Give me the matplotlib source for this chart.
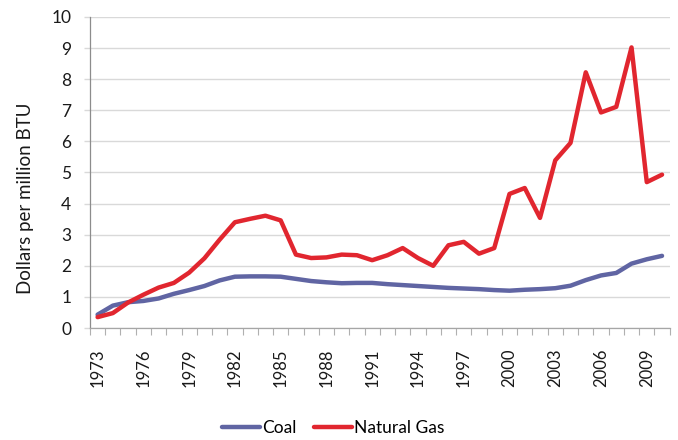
import matplotlib
matplotlib.use('Agg')
import matplotlib.pyplot as plt
import numpy as np

plt.rcParams['font.family'] = ['Lato', 'DejaVu Sans']

years = list(range(1973, 2011))
coal = [0.43, 0.72, 0.83, 0.87, 0.95, 1.10, 1.22, 1.35, 1.53, 1.65, 1.66, 1.66, 1.65,
        1.58, 1.51, 1.47, 1.44, 1.45, 1.45, 1.41, 1.38, 1.35, 1.32, 1.29, 1.27, 1.25,
        1.22, 1.20, 1.23, 1.25, 1.28, 1.36, 1.54, 1.69, 1.77, 2.07, 2.21, 2.32]
gas = [0.35, 0.48, 0.82, 1.07, 1.30, 1.45, 1.78, 2.24, 2.84, 3.40, 3.51, 3.61, 3.46,
       2.36, 2.25, 2.27, 2.36, 2.34, 2.18, 2.34, 2.57, 2.25, 2.00, 2.66, 2.77, 2.39,
       2.57, 4.31, 4.50, 3.54, 5.39, 5.95, 8.22, 6.93, 7.11, 9.02, 4.69, 4.93]
series_names = ['Coal', 'Natural Gas']
series_colors = ['#6065A3', '#E1262F']
label_years = years[::3]

fig = plt.figure(figsize=(6.78, 4.40), dpi=100)
ax = fig.add_axes([0.1327, 0.2545, 0.855, 0.707])

x = np.arange(len(years))
for vals, name, col in zip([coal, gas], series_names, series_colors):
    ax.plot(x, vals, color=col, linewidth=3.2, label=name, solid_capstyle='round',
            solid_joinstyle='round')

ax.set_xlim(-0.5, len(years) - 0.5)
ax.set_ylim(0, 10)
ax.set_yticks(range(0, 11))
ax.grid(True, axis='y', color='#d9d9d9', linewidth=1.0)
ax.set_axisbelow(True)

ax.set_xticks([years.index(y) for y in label_years])
ax.set_xticklabels([str(y) for y in label_years], rotation=90)
ax.set_xticks(np.arange(-0.5, len(years), 1.0), minor=True)
ax.tick_params(axis='x', which='major', length=0, pad=15, labelsize=12, colors='#1a1a1a')
ax.tick_params(axis='x', which='minor', length=5, color='#b0b0b0', width=0.8)
ax.tick_params(axis='y', length=4.5, width=1.0, color='#d9d9d9', pad=9, labelsize=12.5,
               labelcolor='#1a1a1a')

for side in ['top', 'right']:
    ax.spines[side].set_visible(False)
ax.spines['left'].set_color('#8c8c8c')
ax.spines['bottom'].set_color('#a6a6a6')
for side in ['left', 'bottom']:
    ax.spines[side].set_linewidth(0.9)

ax.set_ylabel('Dollars per million BTU', fontsize=13.5, color='#1a1a1a')
ax.yaxis.set_label_coords(-0.112, 0.418)
ax.yaxis.label.set_va('center')

fig.legend(loc='center', bbox_to_anchor=(333 / 678, 1 - 428 / 440), ncol=2, frameon=False,
           fontsize=12.5, handlelength=2.2, handletextpad=0.1, columnspacing=1.0)

plt.savefig('out.png', dpi=100)
